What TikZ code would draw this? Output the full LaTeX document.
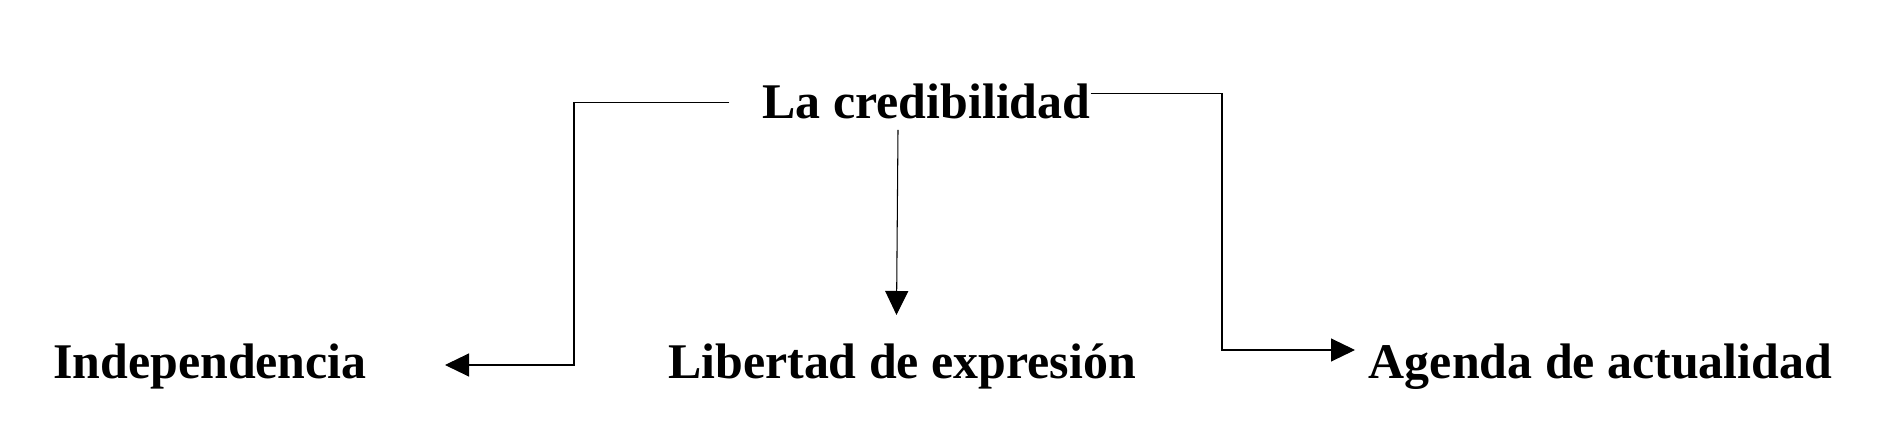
\documentclass[tikz,border=0pt]{standalone}
\usepackage{fontspec}
\setmainfont{Liberation Serif}
\usetikzlibrary{arrows.meta}
\tikzset{
  lbl/.style={anchor=base, inner sep=0pt, font=\fontsize{28.4}{34}\selectfont\bfseries},
  conn/.style={line width=0.6pt, -{Triangle[length=0.48cm,width=0.46cm]}}
}

\begin{document}
\begin{tikzpicture}
  \useasboundingbox (0,0) rectangle (37.84,8.92);
  \node[lbl] (cred) at (18.53,6.54) {La credibilidad};
  \node[lbl] (indep) at (4.2,1.34) {Independencia};
  \node[lbl] (libre) at (18.04,1.34) {Libertad de expresión};
  \node[lbl] (agenda) at (32.01,1.34) {Agenda de actualidad};
  \coordinate (lcorner) at (11.48,1.62);
  \coordinate (indepin) at (8.9,1.62);
  \coordinate (librein) at (17.93,2.62);
  \coordinate (rcorner) at (24.44,1.92);
  \coordinate (agendain) at (27.1,1.92);
  \draw[conn] ([xshift=-0.66cm,yshift=-0.02cm]cred.west) -| (lcorner) -- (indepin);
  \draw[conn] ([xshift=-0.57cm,yshift=-0.2cm]cred.south) -- (librein);
  \draw[conn] ([yshift=0.17cm]cred.east) -| (rcorner) -- (agendain);
\end{tikzpicture}
\end{document}
